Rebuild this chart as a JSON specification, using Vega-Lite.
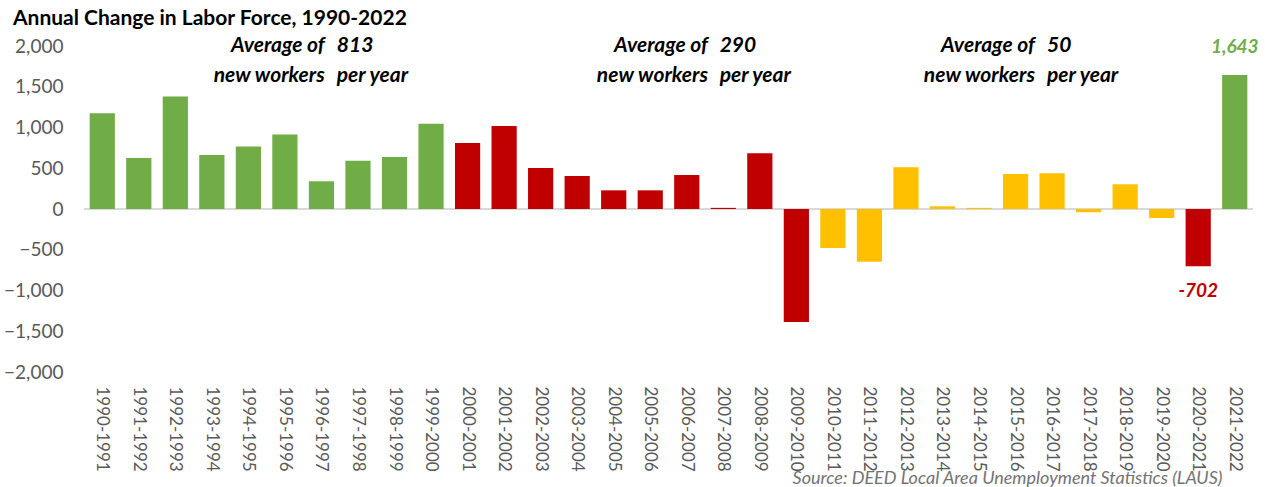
{
  "$schema": "https://vega.github.io/schema/vega-lite/v6.json",
  "autosize": {"type": "none"},
  "width": 1169,
  "height": 326,
  "padding": {"left": 84, "top": 46, "right": 12, "bottom": 115},
  "background": "white",
  "config": {"view": {"stroke": null}, "font": "Lato"},
  "title": {
    "text": "Annual Change in Labor Force, 1990-2022",
    "anchor": "start",
    "frame": "group",
    "dx": -71,
    "offset": 6,
    "fontSize": 21,
    "font": "Lato",
    "fontWeight": "bold",
    "color": "#000000"
  },
  "datasets": {
    "bars": [
      {"period": "1990-1991", "change": 1175, "group": "green"},
      {"period": "1991-1992", "change": 627, "group": "green"},
      {"period": "1992-1993", "change": 1380, "group": "green"},
      {"period": "1993-1994", "change": 663, "group": "green"},
      {"period": "1994-1995", "change": 768, "group": "green"},
      {"period": "1995-1996", "change": 915, "group": "green"},
      {"period": "1996-1997", "change": 340, "group": "green"},
      {"period": "1997-1998", "change": 593, "group": "green"},
      {"period": "1998-1999", "change": 638, "group": "green"},
      {"period": "1999-2000", "change": 1047, "group": "green"},
      {"period": "2000-2001", "change": 810, "group": "red"},
      {"period": "2001-2002", "change": 1018, "group": "red"},
      {"period": "2002-2003", "change": 503, "group": "red"},
      {"period": "2003-2004", "change": 405, "group": "red"},
      {"period": "2004-2005", "change": 229, "group": "red"},
      {"period": "2005-2006", "change": 229, "group": "red"},
      {"period": "2006-2007", "change": 417, "group": "red"},
      {"period": "2007-2008", "change": 14, "group": "red"},
      {"period": "2008-2009", "change": 683, "group": "red"},
      {"period": "2009-2010", "change": -1387, "group": "red"},
      {"period": "2010-2011", "change": -479, "group": "yellow"},
      {"period": "2011-2012", "change": -647, "group": "yellow"},
      {"period": "2012-2013", "change": 512, "group": "yellow"},
      {"period": "2013-2014", "change": 33, "group": "yellow"},
      {"period": "2014-2015", "change": 14, "group": "yellow"},
      {"period": "2015-2016", "change": 430, "group": "yellow"},
      {"period": "2016-2017", "change": 438, "group": "yellow"},
      {"period": "2017-2018", "change": -40, "group": "yellow"},
      {"period": "2018-2019", "change": 303, "group": "yellow"},
      {"period": "2019-2020", "change": -110, "group": "yellow"},
      {"period": "2020-2021", "change": -702, "group": "red"},
      {"period": "2021-2022", "change": 1643, "group": "green"}
    ],
    "valueLabels": [
      {"period": "2020-2021", "labelY": -1000, "label": "-702", "group": "red"},
      {"period": "2021-2022", "labelY": 1985, "label": "1,643", "group": "green"}
    ],
    "notesRight": [
      {"pos": 6.59, "y": 2000, "note": "Average of"},
      {"pos": 6.59, "y": 1630, "note": "new workers"},
      {"pos": 17.08, "y": 2000, "note": "Average of"},
      {"pos": 17.08, "y": 1630, "note": "new workers"},
      {"pos": 26.03, "y": 2000, "note": "Average of"},
      {"pos": 26.03, "y": 1630, "note": "new workers"}
    ],
    "notesLeft": [
      {"pos": 6.92, "y": 2000, "note": "813"},
      {"pos": 6.92, "y": 1630, "note": "per year"},
      {"pos": 17.4, "y": 2000, "note": "290"},
      {"pos": 17.4, "y": 1630, "note": "per year"},
      {"pos": 26.36, "y": 2000, "note": "50"},
      {"pos": 26.36, "y": 1630, "note": "per year"}
    ]
  },
  "layer": [
    {
      "data": {"name": "bars"},
      "mark": {"type": "rule", "color": "#d9d9d9", "strokeWidth": 1.5},
      "encoding": {"y": {"datum": 0}}
    },
    {
      "layer": [
        {
          "data": {"name": "bars"},
          "mark": {"type": "bar"},
          "encoding": {
            "x": {
              "field": "period",
              "type": "nominal",
              "sort": null,
              "scale": {"paddingInner": 0.31, "paddingOuter": 0.155},
              "axis": {
                "title": "Source: DEED Local Area Unemployment Statistics (LAUS)",
                "titleFontStyle": "italic",
                "titleFontWeight": "normal",
                "titleFont": "Lato",
                "titleFontSize": 18,
                "titleColor": "#737373",
                "titleAnchor": "end",
                "titleAlign": "right",
                "titleBaseline": "middle",
                "titleX": 1138,
                "titleY": 106,
                "labelAngle": 90,
                "labelAlign": "left",
                "labelBaseline": "middle",
                "labelFontSize": 17,
                "labelColor": "#595959",
                "labelPadding": 14,
                "ticks": false,
                "domain": false,
                "grid": false
              }
            },
            "y": {
              "field": "change",
              "type": "quantitative",
              "scale": {"domain": [-2000, 2000], "nice": false},
              "axis": {
                "title": null,
                "values": [-2000, -1500, -1000, -500, 0, 500, 1000, 1500, 2000],
                "format": ",.0f",
                "labelFontSize": 19,
                "labelColor": "#595959",
                "labelPadding": 21,
                "ticks": false,
                "domain": false,
                "grid": false
              }
            },
            "color": {
              "field": "group",
              "type": "nominal",
              "scale": {"domain": ["green", "red", "yellow"], "range": ["#70AD47", "#C00000", "#FFC000"]},
              "legend": null
            }
          }
        },
        {
          "data": {"name": "valueLabels"},
          "mark": {"type": "text", "fontStyle": "italic", "fontWeight": "bold", "fontSize": 19, "baseline": "middle", "align": "center"},
          "encoding": {
            "x": {"field": "period", "type": "nominal", "sort": null},
            "y": {"field": "labelY", "type": "quantitative"},
            "text": {"field": "label"},
            "color": {"field": "group", "type": "nominal", "scale": {"domain": ["green", "red", "yellow"], "range": ["#70AD47", "#C00000", "#FFC000"]}, "legend": null}
          }
        }
      ]
    },
    {
      "data": {"name": "notesRight"},
      "mark": {"type": "text", "fontStyle": "italic", "fontWeight": "bold", "fontSize": 21, "baseline": "middle", "align": "right", "color": "#000000"},
      "encoding": {
        "x": {"field": "pos", "type": "quantitative", "scale": {"domain": [0, 32], "nice": false, "zero": false}, "axis": null},
        "y": {"field": "y", "type": "quantitative"},
        "text": {"field": "note"}
      }
    },
    {
      "data": {"name": "notesLeft"},
      "mark": {"type": "text", "fontStyle": "italic", "fontWeight": "bold", "fontSize": 21, "baseline": "middle", "align": "left", "color": "#000000"},
      "encoding": {
        "x": {"field": "pos", "type": "quantitative", "scale": {"domain": [0, 32], "nice": false, "zero": false}, "axis": null},
        "y": {"field": "y", "type": "quantitative"},
        "text": {"field": "note"}
      }
    }
  ],
  "resolve": {"scale": {"x": "independent"}, "axis": {"x": "independent"}}
}
